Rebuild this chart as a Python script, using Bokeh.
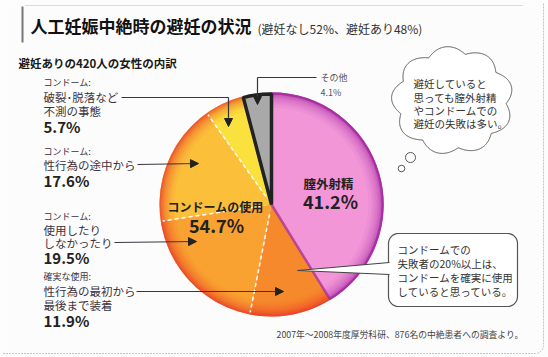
import numpy as np
from bokeh.plotting import figure
from bokeh.models import Range1d, Arrow, NormalHead, Label
from bokeh.embed import file_html
from bokeh.resources import INLINE

# ---------------- data ----------------
categories = ["膣外射精", "確実な使用", "使用したりしなかったり", "性行為の途中から",
              "破裂・脱落など不測の事態", "その他"]
shares = [41.2, 11.9, 19.5, 17.6, 5.7, 4.1]
slice_colors = ["#f296d8", "#f7892d", "#f9a131", "#fbbf3a", "#fbe13e", "#a9a9a9"]
condom_total = 54.7
no_contra = 52
with_contra = 48
n_women = 420

W, H = 548, 357
FONT = "Noto Sans CJK JP"


def Y(py):
    return H - py


p = figure(width=W, height=H, x_range=Range1d(0, W), y_range=Range1d(0, H),
           output_backend="svg", toolbar_location=None, min_border=0)
p.axis.visible = False
p.grid.visible = False
p.outline_line_color = None
p.background_fill_color = "#fdfcfc"
p.border_fill_color = "#fdfcfc"


def lab(x, py, text, size, bold=False, color="#3a3340", align="left"):
    p.add_layout(Label(x=x, y=Y(py), text=text, text_font=FONT,
                       text_font_size=f"{size}px",
                       text_font_style="bold" if bold else "normal",
                       text_color=color, text_baseline="middle", text_align=align))


# ---------------- frame ----------------
p.line([25, 522], [Y(5), Y(5)], line_color="#bbbbbb", line_width=1, line_dash="1 1")
t = np.linspace(0, np.pi / 2, 12)
fx = [543, 543] + list(535 + 8 * np.cos(t)) + [2]
fy = [Y(3), Y(345)] + list(Y(345) - 8 * np.sin(t)) + [Y(353)]
p.line(fx, fy, line_color="#c4c4c4", line_width=1, line_dash="2 1")
p.line([22, 22], [Y(6), Y(42)], line_color="#777777", line_width=2)

# ---------------- titles ----------------
lab(30, 25, "人工妊娠中絶時の避妊の状況", 17, bold=True, color="#111111")
lab(257, 28, f"(避妊なし{no_contra}%、避妊あり{with_contra}%)", 12, color="#333333")
lab(18, 62, f"避妊ありの{n_women}人の女性の内訳", 11.5, bold=True, color="#1a1a1a")

# ---------------- pie ----------------
cx, cy, R = 271, Y(204), 112
fr = np.array(shares) / 100.0
cum = np.concatenate([[0.0], np.cumsum(fr)])
a0 = np.pi / 2 - cum[:-1] * 2 * np.pi
a1 = np.pi / 2 - cum[1:] * 2 * np.pi

# main slices
for i in range(len(shares)):
    p.wedge(x=cx, y=cy, radius=R, start_angle=a0[i], end_angle=a1[i], direction="clock",
            fill_color=slice_colors[i], line_color=None)

# rim shading (soft gradient built from thin translucent rings)
rings = [(97, 0.05), (100, 0.06), (102, 0.07), (104, 0.08), (106, 0.1),
         (107.5, 0.12), (109, 0.16), (110.5, 0.25)]
for r0, al in rings:
    p.annular_wedge(x=cx, y=cy, inner_radius=r0, outer_radius=R,
                    start_angle=a0[1], end_angle=a1[4], direction="clock",
                    fill_color="#e8202a", fill_alpha=al, line_color=None)
    p.annular_wedge(x=cx, y=cy, inner_radius=r0, outer_radius=R,
                    start_angle=a0[0], end_angle=a1[0], direction="clock",
                    fill_color="#98189a", fill_alpha=al, line_color=None)
p.wedge(x=cx, y=cy, radius=R - 1, start_angle=a0[0], end_angle=a1[0], direction="clock",
        fill_color=None, line_color="#a0259c", line_width=2.5, line_alpha=0.7)

# gray slice edges
p.wedge(x=cx, y=cy, radius=R - 1.5, start_angle=a0[5], end_angle=a1[5], direction="clock",
        fill_color=None, line_color="#222222", line_width=3.5)

# white dashed dividers inside the condom part
for k in [2, 3, 4]:
    ang = np.pi / 2 - cum[k] * 2 * np.pi
    p.line([cx + 10 * np.cos(ang), cx + (R - 2) * np.cos(ang)],
           [cy + 10 * np.sin(ang), cy + (R - 2) * np.sin(ang)],
           line_color="white", line_width=1.5, line_dash="4 3")

# pie labels
lab(328, 183, categories[0], 12.5, bold=True, color="#222222", align="center")
lab(330, 200, f"{shares[0]}%", 18, bold=True, color="#222222", align="center")
lab(215, 206, "コンドームの使用", 12, bold=True, color="#222222", align="center")
lab(216, 224, f"{condom_total}%", 18, bold=True, color="#222222", align="center")

# ---------------- left labels ----------------
LX = 43
lab(LX, 82, "コンドーム:", 9)
lab(LX, 96, "破裂･脱落など", 11.5)
lab(LX, 110, "不測の事態", 11.5)
lab(LX, 126, f"{shares[4]}%", 15, bold=True, color="#222222")

lab(LX, 151, "コンドーム:", 9)
lab(LX, 164, "性行為の途中から", 11.5)
lab(LX, 180, f"{shares[3]}%", 15, bold=True, color="#222222")

lab(LX, 216, "コンドーム:", 9)
lab(LX, 229, "使用したり", 11.5)
lab(LX, 242, "しなかったり", 11.5)
lab(LX, 257, f"{shares[2]}%", 15, bold=True, color="#222222")

lab(LX, 276, "確実な使用:", 9)
lab(LX, 290, "性行為の最初から", 11.5)
lab(LX, 304, "最後まで装着", 11.5)
lab(LX, 320, f"{shares[1]}%", 15, bold=True, color="#222222")

lab(320, 77, "その他", 9, color="#555555")
lab(320, 92, f"{shares[5]}%", 9, color="#555555")

# ---------------- arrows ----------------
LC = "#3a3440"


def arrow(x0, y0, x1, y1):
    p.add_layout(Arrow(end=NormalHead(size=8, fill_color="#222222", line_color="#222222"),
                       x_start=x0, y_start=Y(y0), x_end=x1, y_end=Y(y1),
                       line_color=LC, line_width=1.2))


p.line([121, 228], [Y(97), Y(97)], line_color=LC, line_width=1.2)
arrow(228, 97, 228, 126)
arrow(137, 164, 198, 163)
arrow(114, 242, 196, 241)
arrow(136, 291, 283, 291)
p.line([316, 257], [Y(77), Y(77)], line_color=LC, line_width=1.2)
arrow(257, 77, 257, 104)

# ---------------- thought cloud ----------------
tt = np.linspace(0, 2 * np.pi, 720)
rr = 0.88 + 0.12 * np.abs(np.sin(4.5 * tt + 0.3))
p.patch(452 + 61 * rr * np.cos(tt), Y(100) + 54 * rr * np.sin(tt),
        fill_color="white", line_color="#555555", line_width=1)
p.circle(x=[410, 401], y=[Y(157), Y(168)], radius=[5, 3.3],
         fill_color="white", line_color="#555555", line_width=1)
for py, s in zip([83, 97, 110, 123], ["避妊していると", "思っても膣外射精", "やコンドームでの", "避妊の失敗は多い。"]):
    lab(413, py, s, 10.5, color="#333333")

# ---------------- callout box ----------------
bx0, bx1, by0, by1, rad = 388, 517, 233, 306, 10


def rounded(x0, x1, t0, t1, r):
    xs, ys = [], []
    corners = [(x1 - r, t0 + r, -np.pi / 2, 0), (x1 - r, t1 - r, 0, np.pi / 2),
               (x0 + r, t1 - r, np.pi / 2, np.pi), (x0 + r, t0 + r, np.pi, 1.5 * np.pi)]
    for ccx, ccy, s, e in corners:
        a = np.linspace(s, e, 10)
        xs += list(ccx + r * np.cos(a))
        ys += list(Y(ccy + r * np.sin(a)))
    return xs, ys


bxs, bys = rounded(bx0, bx1, by0, by1, rad)
p.patch(bxs, bys, fill_color="white", line_color="#555555", line_width=1.2)
p.patch([297, 389.5, 389.5], [Y(270), Y(262), Y(274)], fill_color="white", line_color=None)
p.line([297, 389], [Y(270), Y(262)], line_color="#444444", line_width=1)
p.line([297, 389], [Y(270), Y(274)], line_color="#444444", line_width=1)
for py, s in zip([249, 263, 277, 291], ["コンドームでの", "失敗者の20%以上は、",
                                        "コンドームを確実に使用", "していると思っている。"]):
    lab(397, py, s, 10.5, color="#333333")

# ---------------- footnote ----------------
lab(276, 334, "2007年～2008年度厚労科研、876名の中絶患者への調査より。", 8.8, color="#444444")

open("out.html", "w").write(file_html(p, INLINE))
